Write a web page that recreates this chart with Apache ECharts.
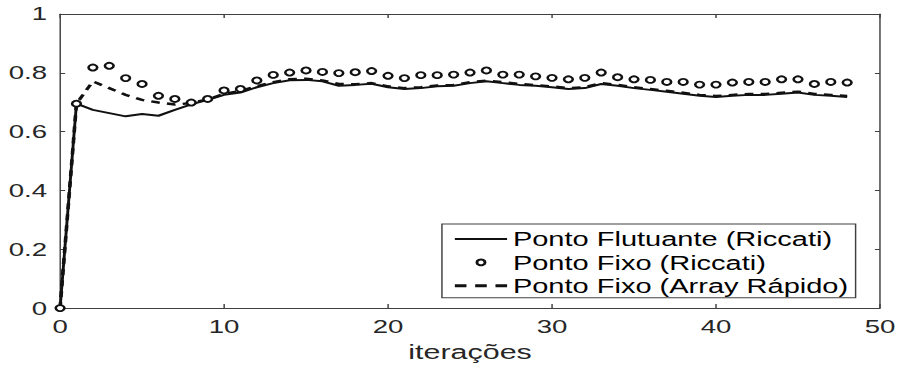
<!DOCTYPE html>
<html>
<head>
<meta charset="utf-8">
<script src="https://cdn.jsdelivr.net/npm/echarts@6/dist/echarts.min.js"></script>
<style>
  html, body { margin: 0; padding: 0; background: #fff; }
  #wrap { width: 901px; height: 367px; overflow: hidden; }
  /* the reference is stretched sideways, so draw narrow and scale x */
  #chart { width: 621px; height: 367px; transform: scaleX(1.4509); transform-origin: 0 0; }
</style>
</head>
<body>
<div id="wrap"><div id="chart"></div></div>
<script>
const iteracoes = [0, 1, 2, 3, 4, 5, 6, 7, 8, 9, 10, 11, 12, 13, 14, 15, 16, 17, 18, 19, 20,
  21, 22, 23, 24, 25, 26, 27, 28, 29, 30, 31, 32, 33, 34, 35, 36, 37, 38, 39, 40,
  41, 42, 43, 44, 45, 46, 47, 48];

const flutuanteRiccati = [0, 0.695, 0.674, 0.663, 0.652, 0.660, 0.654, 0.674, 0.693, 0.708, 0.725,
  0.733, 0.751, 0.765, 0.775, 0.776, 0.771, 0.756, 0.759, 0.763, 0.751,
  0.745, 0.748, 0.754, 0.756, 0.765, 0.771, 0.765, 0.759, 0.756, 0.751,
  0.745, 0.748, 0.762, 0.756, 0.748, 0.742, 0.736, 0.729, 0.722, 0.718,
  0.722, 0.725, 0.725, 0.729, 0.733, 0.725, 0.722, 0.718];

const fixoRiccati = [0, 0.695, 0.818, 0.824, 0.782, 0.762, 0.722, 0.711, 0.699, 0.711, 0.740,
  0.745, 0.774, 0.793, 0.801, 0.808, 0.803, 0.799, 0.802, 0.806, 0.790,
  0.782, 0.792, 0.792, 0.794, 0.801, 0.808, 0.794, 0.794, 0.788, 0.783,
  0.778, 0.783, 0.801, 0.785, 0.778, 0.776, 0.769, 0.769, 0.760, 0.760,
  0.767, 0.769, 0.769, 0.778, 0.778, 0.762, 0.769, 0.767];

const fixoArrayRapido = [0, 0.695, 0.771, 0.748, 0.725, 0.708, 0.699, 0.692, 0.697, 0.710, 0.728,
  0.738, 0.755, 0.768, 0.778, 0.780, 0.774, 0.762, 0.761, 0.765, 0.754,
  0.748, 0.751, 0.757, 0.759, 0.768, 0.773, 0.768, 0.762, 0.758, 0.754,
  0.748, 0.751, 0.765, 0.759, 0.751, 0.745, 0.739, 0.732, 0.725, 0.721,
  0.725, 0.728, 0.728, 0.732, 0.736, 0.728, 0.725, 0.721];

const nomes = ['Ponto Flutuante (Riccati)', 'Ponto Fixo (Riccati)', 'Ponto Fixo (Array Rápido)'];

const fonte = "'Liberation Sans', Arial, sans-serif";
const corEixo = '#404040';
const corTexto = '#262626';

const pares = vals => iteracoes.map((x, i) => [x, vals[i]]);

const chart = echarts.init(document.getElementById('chart'), null, { renderer: 'svg' });

const eixoBase = {
  type: 'value',
  splitLine: { show: false },
  axisLine: { show: true, onZero: false, lineStyle: { color: corEixo, width: 1 } },
};

chart.setOption({
  animation: false,
  backgroundColor: '#fff',
  grid: { left: 41.4, right: 14.5, top: 14, bottom: 58, containLabel: false },
  legend: {
    orient: 'vertical',
    left: 304.6,
    top: 224,
    padding: [5, 5, 2, 7.4],
    itemGap: 3.4,
    itemWidth: 36,
    itemHeight: 7,
    borderColor: corEixo,
    borderWidth: 1,
    backgroundColor: '#fff',
    textStyle: { fontFamily: fonte, fontSize: 20, color: '#000', lineHeight: 20, padding: [0, 0, 0, -1] },
    data: [
      { name: nomes[0], itemStyle: { opacity: 0 }, lineStyle: { width: 2 } },
      { name: nomes[1] },
      { name: nomes[2], itemStyle: { opacity: 0 }, lineStyle: { width: 3, type: [8, 6] } },
    ],
  },
  xAxis: [
    Object.assign({}, eixoBase, {
      min: 0, max: 50, interval: 10,
      position: 'bottom',
      axisTick: { show: true, inside: true, length: 4, lineStyle: { color: corEixo } },
      axisLabel: { fontFamily: fonte, fontSize: 19, color: corTexto, margin: 9 },
      name: 'iterações',
      nameLocation: 'middle',
      nameGap: 32,
      nameTextStyle: { fontFamily: fonte, fontSize: 21, color: corTexto },
    }),
    Object.assign({}, eixoBase, {
      min: 0, max: 50, interval: 10,
      position: 'top',
      axisTick: { show: true, inside: true, length: 4, lineStyle: { color: corEixo } },
      axisLabel: { show: false },
    }),
  ],
  yAxis: [
    Object.assign({}, eixoBase, {
      min: 0, max: 1, interval: 0.2,
      position: 'left',
      axisTick: { show: true, inside: true, length: 3.5, lineStyle: { color: corEixo } },
      axisLabel: { fontFamily: fonte, fontSize: 19, color: corTexto, margin: 9 },
    }),
    Object.assign({}, eixoBase, {
      min: 0, max: 1, interval: 0.2,
      position: 'right',
      axisTick: { show: true, inside: true, length: 3.5, lineStyle: { color: corEixo } },
      axisLabel: { show: false },
    }),
  ],
  series: [
    {
      name: nomes[0],
      type: 'line',
      xAxisIndex: 0,
      yAxisIndex: 0,
      data: pares(flutuanteRiccati),
      symbol: 'none',
      itemStyle: { color: '#111' },
      lineStyle: { color: '#111', width: 2 },
      z: 3,
    },
    {
      name: nomes[1],
      type: 'line',
      xAxisIndex: 0,
      yAxisIndex: 0,
      data: pares(fixoRiccati),
      symbol: 'circle',
      symbolSize: 6,
      showSymbol: true,
      itemStyle: { color: '#fff', borderColor: '#111', borderWidth: 1.8 },
      lineStyle: { width: 0, opacity: 0 },
      z: 4,
    },
    {
      name: nomes[2],
      type: 'line',
      xAxisIndex: 0,
      yAxisIndex: 0,
      data: pares(fixoArrayRapido),
      symbol: 'none',
      itemStyle: { color: '#111' },
      lineStyle: { color: '#111', width: 2.5, type: [6, 5] },
      z: 2,
    },
  ],
});
</script>
</body>
</html>
